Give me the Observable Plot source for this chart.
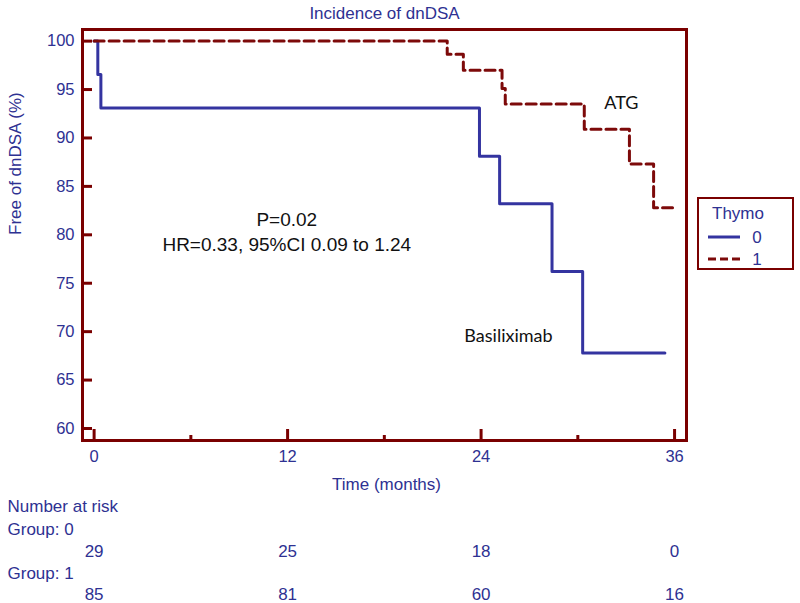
<!DOCTYPE html>
<html><head><meta charset="utf-8">
<script src="https://cdn.jsdelivr.net/npm/d3@7"></script>
<script src="https://cdn.jsdelivr.net/npm/@observablehq/plot@0.6"></script>
<style>
html,body{margin:0;padding:0;background:#fff;overflow:hidden;}
#wrap{position:relative;width:800px;height:603px;}
#legend{position:absolute;left:697px;top:197px;width:97px;height:73px;border:2px solid #7a0000;box-sizing:border-box;background:#fff;}
</style></head><body><div id="wrap"></div>
<script>
const titleText = "Incidence of dnDSA";
const xLabel = "Time (months)";
const yLabel = "Free of dnDSA (%)";
const legendTitle = "Thymo";
const groups = ["0", "1"];
// Group 0 (Basiliximab) Kaplan-Meier steps
const time0 = [0, 0.23, 0.42, 23.9, 25.15, 28.4, 30.3, 35.4];
const surv0 = [100, 96.55, 93.1, 88.1, 83.2, 76.2, 67.8, 67.8];
// Group 1 (ATG) Kaplan-Meier steps
const time1 = [0, 21.9, 22.9, 25.3, 25.5, 30.4, 33.2, 34.7, 36.1];
const surv1 = [100, 98.65, 97.0, 95.1, 93.5, 90.9, 87.3, 82.8, 82.8];
const xMajorTicks = [0, 12, 24, 36];
const xMinorTicks = [6, 18, 30];
const yTicks = [60, 65, 70, 75, 80, 85, 90, 95, 100];
const riskTimes = [0, 12, 24, 36];
const risk0 = [29, 25, 18, 0];
const risk1 = [85, 81, 60, 16];
const riskLabels = ["Number at risk", "Group: 0", "Group: 1"];
const statText = ["P=0.02", "HR=0.33, 95%CI 0.09 to 1.24"];
const statPos = [{t: 11.95, s: 81.5}, {t: 11.95, s: 79.0}];
const curveLabels = ["Basiliximab", "ATG"];
const curveLabelPos = [{t: 25.7, s: 69.5}, {t: 32.7, s: 93.6}];

const navy = "#2e3192", blue = "#3434a0", red = "#7d0a0a", frameRed = "#7a0000";
const font = "'Liberation Sans', Arial, sans-serif";

const curve0 = time0.map((t, i) => ({t, s: surv0[i]}));
const curve1 = time1.map((t, i) => ({t, s: surv1[i]}));
const riskRow0 = riskTimes.map((t, i) => ({t, n: risk0[i]}));
const riskRow1 = riskTimes.map((t, i) => ({t, n: risk1[i]}));
const stats = statText.map((txt, i) => ({txt, ...statPos[i]}));
const cLabels = curveLabels.map((txt, i) => ({txt, ...curveLabelPos[i]}));

const txt = (d) => d;
const plot = Plot.plot({
  width: 800, height: 603,
  marginTop: 29, marginBottom: 163, marginLeft: 82, marginRight: 114,
  style: {fontFamily: font, fontSize: "16px", background: "#fff", overflow: "visible"},
  x: {domain: [-0.72, 36.74], label: null},
  y: {domain: [58.76, 101.2], label: null},
  marks: [
    Plot.line(curve0, {x: "t", y: "s", curve: "step-after", stroke: blue, strokeWidth: 3}),
    Plot.line(curve1, {x: "t", y: "s", curve: "step-after", stroke: red, strokeWidth: 3, strokeDasharray: "10,5"}),
    Plot.axisY({ticks: yTicks, tickSize: -10, color: frameRed, strokeWidth: 3, tickFormat: () => "", label: null}),
    Plot.axisY({ticks: yTicks, tickSize: 0, tickPadding: 8, color: navy, fontSize: 16.5, label: null}),
    Plot.axisX({ticks: xMajorTicks, tickSize: -11, color: frameRed, strokeWidth: 3, tickFormat: () => "", label: null}),
    Plot.axisX({ticks: xMinorTicks, tickSize: -5, color: frameRed, strokeWidth: 3, tickFormat: () => "", label: null}),
    Plot.axisX({ticks: xMajorTicks, tickSize: 0, tickPadding: 10, color: navy, fontSize: 16.5, label: null}),
    Plot.frame({stroke: frameRed, strokeWidth: 3}),
    Plot.text([titleText], {text: txt, frameAnchor: "top", lineAnchor: "middle", dy: -16, fill: navy, fontSize: 17}),
    Plot.text([yLabel], {text: txt, frameAnchor: "left", lineAnchor: "middle", rotate: -90, dx: -67, fill: navy, fontSize: 17}),
    Plot.text([xLabel], {text: txt, frameAnchor: "bottom", lineAnchor: "middle", dy: 44, dx: 2, fill: navy, fontSize: 17}),
    Plot.text([riskLabels[0]], {text: txt, frameAnchor: "bottom-left", lineAnchor: "middle", textAnchor: "start", dx: -75, dy: 66, fill: navy, fontSize: 17}),
    Plot.text([riskLabels[1]], {text: txt, frameAnchor: "bottom-left", lineAnchor: "middle", textAnchor: "start", dx: -75, dy: 89, fill: navy, fontSize: 17}),
    Plot.text([riskLabels[2]], {text: txt, frameAnchor: "bottom-left", lineAnchor: "middle", textAnchor: "start", dx: -75, dy: 133, fill: navy, fontSize: 17}),
    Plot.text(riskRow0, {x: "t", text: "n", frameAnchor: "bottom", lineAnchor: "middle", dy: 111, fill: navy, fontSize: 17}),
    Plot.text(riskRow1, {x: "t", text: "n", frameAnchor: "bottom", lineAnchor: "middle", dy: 154, fill: navy, fontSize: 17}),
    Plot.text(stats, {x: "t", y: "s", text: "txt", fill: "#111", fontSize: 19}),
    Plot.text(cLabels, {x: "t", y: "s", text: "txt", fill: "#111", fontSize: 18, fontFamily: "Lato, 'Open Sans', sans-serif"})
  ]
});
const wrap = document.getElementById("wrap");
wrap.appendChild(plot);

// Legend
const lg = d3.select(wrap).append("div").attr("id", "legend");
const ls = lg.append("svg").attr("width", 93).attr("height", 69).style("font-family", font);
ls.append("text").attr("x", 13).attr("y", 14).attr("dy", "0.35em").attr("fill", navy).attr("font-size", 17).text(legendTitle);
const legendItems = groups.map((g, i) => ({g, color: i === 0 ? blue : red, dash: i === 0 ? null : "8,4", y: 38 + i * 22}));
legendItems.forEach(it => {
  ls.append("line").attr("x1", 9).attr("x2", 41).attr("y1", it.y).attr("y2", it.y)
    .attr("stroke", it.color).attr("stroke-width", 3).attr("stroke-dasharray", it.dash);
  ls.append("text").attr("x", 58).attr("y", it.y).attr("dy", "0.35em").attr("text-anchor", "middle")
    .attr("fill", navy).attr("font-size", 17).text(it.g);
});
</script></body></html>
